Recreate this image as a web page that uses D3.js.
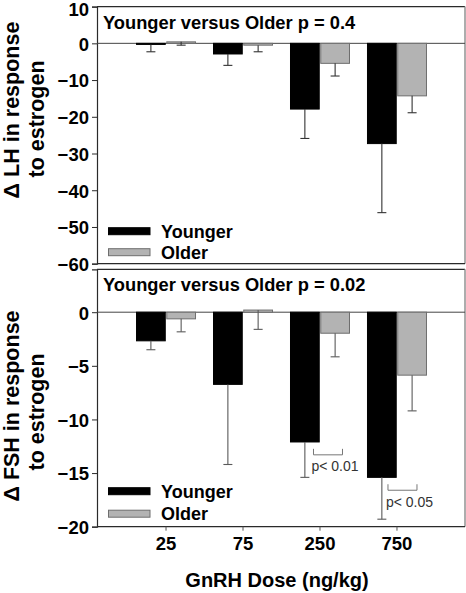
<!DOCTYPE html>
<html>
<head>
<meta charset="utf-8">
<script src="https://cdn.jsdelivr.net/npm/d3@7"></script>
<style>
  html, body { margin: 0; padding: 0; background: #fff; }
  svg { display: block; font-family: "Liberation Sans", Arial, sans-serif; }
</style>
</head>
<body>
<svg id="chart" width="466" height="593"></svg>
<script>
// ---- data ----
const doses = ["25", "75", "250", "750"];
const groups = ["Younger", "Older"];

const lhYounger    = [-0.3, -2.9, -17.9, -27.3];
const lhYoungerErr = [-2.3, -6.0, -25.9, -46.1];
const lhOlder      = [0.4, -0.5, -5.45, -14.3];
const lhOlderErr   = [-0.5, -2.3, -8.9, -18.9];

const fshYounger    = [-2.67, -6.73, -12.1, -15.4];
const fshYoungerErr = [-3.5, -14.2, -15.4, -19.3];
const fshOlder      = [-0.62, 0.2, -1.96, -5.87];
const fshOlderErr   = [-1.83, -1.6, -4.16, -9.2];

const lhTicks  = [10, 0, -10, -20, -30, -40, -50, -60];
const fshTicks = [0, -5, -10, -15, -20];

const lhTitle  = "Younger versus Older p = 0.4";
const fshTitle = "Younger versus Older p = 0.02";
const lhLabel  = ["\u0394 LH in response", "to estrogen"];
const fshLabel = ["\u0394 FSH in response", "to estrogen"];
const xLabel   = "GnRH Dose (ng/kg)";

const fshSig = [
  { dose: "250", y: -13.3, text: "p< 0.01" },
  { dose: "750", y: -16.6, text: "p< 0.05" }
];

// ---- layout ----
const svg = d3.select("#chart");
const left = 97, right = 465;
const colors = { Younger: "#000000", Older: "#b3b3b3" };
const strokes = { Younger: "#000000", Older: "#6e6e6e" };

const x = d3.scalePoint().domain(doses).range([left, right]).padding(0.89);
const xs = d3.scaleBand().domain(groups).range([-29, 30]).paddingInner(0.05);

function panel(cfg) {
  const y = d3.scaleLinear().domain(cfg.domain).range([cfg.bottom, cfg.top]);
  const g = svg.append("g");

  // frame
  g.append("line").attr("x1", left).attr("x2", right).attr("y1", cfg.top).attr("y2", cfg.top)
    .attr("stroke", "#2a2a2a").attr("stroke-width", 1.2);
  g.append("line").attr("x1", right).attr("x2", right).attr("y1", cfg.top).attr("y2", cfg.bottom)
    .attr("stroke", "#8a8a8a").attr("stroke-width", 1.4);
  g.append("line").attr("x1", left).attr("x2", right).attr("y1", cfg.bottom).attr("y2", cfg.bottom)
    .attr("stroke", "#2a2a2a").attr("stroke-width", 1.2);

  // y axis
  const ya = g.append("g").attr("transform", `translate(${left},0)`)
    .call(d3.axisLeft(y).tickValues(cfg.ticks).tickSize(5).tickPadding(3).tickFormat(d3.format("d")));
  ya.select(".domain").attr("stroke", "#2a2a2a").attr("stroke-width", 1.2);
  ya.selectAll(".tick line").attr("stroke", "#2a2a2a");
  ya.selectAll(".tick text").attr("font-size", 18.5).attr("font-weight", "bold").attr("fill", "#000")
    .attr("dy", d => (y(d) - cfg.top < 3 ? "0.5em" : "0.37em"))
    .attr("font-family", "'Liberation Sans', Arial, sans-serif");

  // zero line
  g.append("line").attr("x1", left).attr("x2", right).attr("y1", y(0)).attr("y2", y(0))
    .attr("stroke", "#444").attr("stroke-width", 1);

  // bars
  const series = [
    { key: "Younger", vals: cfg.younger, errs: cfg.youngerErr },
    { key: "Older", vals: cfg.older, errs: cfg.olderErr }
  ];
  series.forEach(s => {
    const data = doses.map((d, i) => ({ dose: d, v: s.vals[i], e: s.errs[i] }));
    g.append("g").selectAll("rect").data(data).join("rect")
      .attr("x", d => x(d.dose) + xs(s.key))
      .attr("width", xs.bandwidth())
      .attr("y", d => y(Math.max(0, d.v)))
      .attr("height", d => Math.abs(y(d.v) - y(0)))
      .attr("fill", colors[s.key])
      .attr("stroke", strokes[s.key])
      .attr("stroke-width", 1);
  });
  series.forEach(s => {
    const data = doses.map((d, i) => ({ dose: d, v: s.vals[i], e: s.errs[i] }));
    const eg = g.append("g").attr("stroke", cfg.errColor).attr("stroke-width", 1.1);
    const cx = d => x(d.dose) + xs(s.key) + xs.bandwidth() / 2;
    eg.selectAll(".ev").data(data).join("line").attr("class", "ev")
      .attr("x1", cx).attr("x2", cx)
      .attr("y1", d => y(d.v)).attr("y2", d => y(d.e));
    eg.selectAll(".ec").data(data).join("line").attr("class", "ec")
      .attr("x1", d => cx(d) - 4.5).attr("x2", d => cx(d) + 4.5)
      .attr("y1", d => y(d.e)).attr("y2", d => y(d.e));
  });

  // title
  g.append("text").attr("x", 103).attr("y", cfg.top + 22)
    .attr("font-size", 18.3).attr("font-weight", "bold").text(cfg.title);

  // legend
  groups.forEach((k, i) => {
    const cy = cfg.bottom + cfg.legendOffsets[i];
    g.append("rect").attr("x", 108.5).attr("y", cy - 3.5).attr("width", 41.5).attr("height", 7)
      .attr("fill", colors[k]).attr("stroke", strokes[k]).attr("stroke-width", 1);
    g.append("text").attr("x", 161).attr("y", cy + 6.5)
      .attr("font-size", 18).attr("font-weight", "bold").text(k);
  });

  // y label
  cfg.label.forEach((t, i) => {
    const bx = [19, 43.5][i];
    const cy = cfg.labelCenters[i];
    g.append("text").attr("transform", `translate(${bx},${cy}) rotate(-90)`)
      .attr("text-anchor", "middle").attr("font-size", 21.5).attr("font-weight", "bold").text(t);
  });

  return { g, y };
}

const topPanel = panel({
  domain: [-60, 10], top: 6.6, bottom: 263.7, ticks: lhTicks,
  younger: lhYounger, youngerErr: lhYoungerErr, older: lhOlder, olderErr: lhOlderErr,
  errColor: "#333", title: lhTitle, label: lhLabel, labelCenters: [110, 119],
  legendOffsets: [-32.5, -11.5]
});

const botPanel = panel({
  domain: [-20, 4], top: 269.3, bottom: 526.7, ticks: fshTicks,
  younger: fshYounger, youngerErr: fshYoungerErr, older: fshOlder, olderErr: fshOlderErr,
  errColor: "#5a5a5a", title: fshTitle, label: fshLabel, labelCenters: [406, 412],
  legendOffsets: [-35.5, -13]
});

// significance brackets (bottom panel)
fshSig.forEach(s => {
  const y0 = botPanel.y(s.y);
  const cx = x(s.dose);
  const x1 = cx - 6 + (s.dose === "750" ? -2.5 : 0);
  const x2 = x1 + 29;
  botPanel.g.append("path")
    .attr("d", `M${x1},${y0 - 6}V${y0}H${x2}V${y0 - 6}`)
    .attr("fill", "none").attr("stroke", "#777").attr("stroke-width", 1);
  botPanel.g.append("text").attr("x", x1 - 2).attr("y", y0 + 16.5)
    .attr("font-size", 14).attr("fill", "#333").text(s.text);
});

// x axis (bottom panel)
const xa = svg.append("g").attr("transform", `translate(0,526.7)`)
  .call(d3.axisBottom(x).tickSize(4).tickPadding(6));
xa.select(".domain").remove();
xa.selectAll(".tick line").attr("stroke", "#555");
xa.selectAll(".tick text").attr("font-size", 18.5).attr("font-weight", "bold").attr("fill", "#000")
  .attr("font-family", "'Liberation Sans', Arial, sans-serif");

svg.append("text").attr("x", 277).attr("y", 587).attr("text-anchor", "middle")
  .attr("font-size", 20).attr("font-weight", "bold").text(xLabel);
</script>
</body>
</html>
